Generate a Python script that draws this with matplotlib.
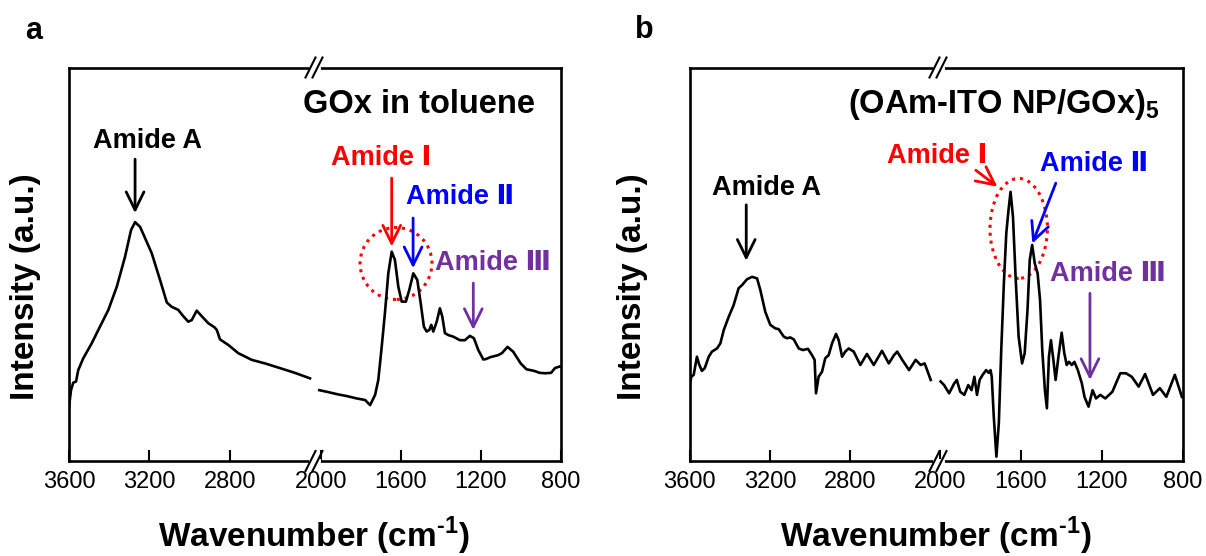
import matplotlib
matplotlib.use('Agg')
import matplotlib.pyplot as plt
from matplotlib.patches import Ellipse
from matplotlib.lines import Line2D

plt.rcParams['font.family'] = ['Liberation Sans', 'DejaVu Sans']
plt.rcParams['mathtext.fontset'] = 'custom'
plt.rcParams['mathtext.rm'] = 'Liberation Sans'
plt.rcParams['mathtext.bf'] = 'Liberation Sans:bold'

# ---------------- data (wavenumber in cm-1, intensity in a.u.) ----------------
a_hi_wn = [3600, 3590, 3579, 3565, 3554, 3529, 3487, 3454, 3404, 3362,
           3321, 3291, 3271, 3246, 3188, 3146, 3113, 3089, 3056, 3031,
           3006, 2989, 2964, 2939, 2906, 2876, 2864, 2848, 2807, 2757,
           2690, 2624, 2549, 2475, 2400]
a_hi_int = [13.8, 18.0, 19.9, 20.2, 23.1, 26.1, 29.9, 33.3, 38.4, 44.3,
            51.9, 58.7, 60.7, 59.5, 52.8, 45.9, 40.3, 39.2, 38.4, 36.8,
            35.4, 35.8, 38.2, 36.8, 35.0, 34.0, 33.3, 30.9, 29.5, 27.4,
            25.7, 24.8, 23.6, 22.4, 21.0]
a_lo_wn = [2007, 1970, 1920, 1870, 1820, 1778, 1753, 1728, 1712, 1695,
           1679, 1662, 1645, 1629, 1612, 1595, 1574, 1557, 1537, 1517,
           1500, 1484, 1470, 1457, 1447, 1437, 1420, 1404, 1392, 1379,
           1362, 1337, 1304, 1279, 1254, 1234, 1212, 1187, 1174, 1151,
           1113, 1094, 1066, 1038, 1000, 971, 933, 905, 876, 848,
           829, 806]
a_lo_int = [18.0, 17.6, 17.0, 16.5, 15.9, 15.5, 14.2, 16.8, 20.6, 29.0,
            37.5, 47.7, 53.2, 51.1, 44.3, 40.5, 40.5, 43.5, 47.7, 46.0,
            40.1, 34.1, 32.9, 33.3, 34.6, 32.9, 35.4, 38.8, 36.7, 32.5,
            32.0, 31.6, 30.7, 30.7, 31.8, 31.2, 28.2, 25.8, 25.9, 26.4,
            26.9, 27.4, 29.0, 27.8, 24.8, 23.3, 22.9, 22.4, 22.3, 22.4,
            23.6, 24.0]

b_hi_wn = [3600, 3592, 3580, 3564, 3552, 3539, 3525, 3505, 3489, 3464,
           3447, 3430, 3405, 3381, 3356, 3339, 3314, 3289, 3264, 3248,
           3223, 3198, 3173, 3156, 3131, 3115, 3098, 3081, 3056, 3036,
           3010, 2990, 2977, 2970, 2957, 2940, 2924, 2907, 2890, 2870,
           2857, 2840, 2824, 2807, 2782, 2749, 2716, 2682, 2641, 2607,
           2581, 2565, 2540, 2506, 2473, 2448, 2428, 2398]
b_hi_int = [19.3, 21.4, 21.9, 26.5, 24.4, 22.9, 23.6, 26.5, 27.8, 28.6,
            29.9, 33.3, 36.7, 39.6, 43.9, 44.7, 46.2, 46.8, 46.4, 43.5,
            37.9, 34.6, 33.7, 33.5, 31.6, 31.2, 31.4, 30.9, 28.6, 28.2,
            28.5, 26.9, 25.7, 17.2, 21.4, 22.7, 26.1, 26.9, 29.9, 32.3,
            30.7, 26.5, 27.8, 28.6, 27.8, 24.4, 27.2, 24.4, 28.0, 24.8,
            26.9, 27.8, 25.7, 23.1, 25.7, 24.4, 24.8, 20.6]
b_lo_wn = [1997, 1980, 1955, 1930, 1917, 1900, 1880, 1860, 1844, 1830,
           1817, 1804, 1789, 1772, 1759, 1750, 1744, 1734, 1721, 1709,
           1697, 1684, 1672, 1661, 1651, 1639, 1626, 1611, 1594, 1581,
           1567, 1556, 1544, 1531, 1517, 1505, 1494, 1481, 1471, 1461,
           1451, 1439, 1428, 1414, 1398, 1385, 1373, 1362, 1348, 1335,
           1318, 1298, 1285, 1265, 1245, 1228, 1207, 1182, 1147, 1108,
           1080, 1051, 1017, 985, 946, 912, 880, 838, 803]
b_lo_int = [20.2, 19.3, 17.2, 19.7, 20.6, 17.6, 16.8, 19.3, 18.0, 21.4,
            16.8, 20.6, 21.9, 23.1, 22.4, 23.1, 21.4, 11.3, 1.1, 9.6,
            28.2, 45.2, 57.9, 63.8, 68.4, 62.1, 46.8, 31.6, 24.8, 27.4,
            38.4, 51.1, 54.9, 50.2, 47.7, 40.9, 28.2, 18.0, 13.4, 26.5,
            30.7, 25.7, 20.6, 26.5, 32.6, 27.4, 24.4, 25.2, 24.4, 25.2,
            23.1, 19.7, 16.3, 13.8, 18.0, 15.9, 16.8, 15.9, 17.6, 22.3,
            22.3, 21.4, 18.9, 22.1, 16.8, 18.5, 16.3, 21.9, 16.3]

hi_ticks = [3600, 3200, 2800]
lo_ticks = [2000, 1600, 1200, 800]

RED, BLUE, PURPLE = '#FF0000', '#0000FF', '#7030A0'
ANN_FAMILY = ['Liberation Sans', 'DejaVu Sans']

# ---------------- layout helpers (pixels -> figure fraction) ----------------
W, H = 1206, 556
fig = plt.figure(figsize=(W / 100, H / 100), dpi=100)
fig.patch.set_facecolor('white')


def fx(px):
    return px / W


def fy(py):
    return 1 - py / H


LW = 1.9
TOP, BOT = 67.5, 461


def make_panel(x0, xb, x1, hi_lim, lo_lim, hi_wn, hi_int, lo_wn, lo_int):
    axL = fig.add_axes([fx(x0), fy(BOT), fx(xb) - fx(x0), fy(TOP) - fy(BOT)])
    axR = fig.add_axes([fx(xb), fy(BOT), fx(x1) - fx(xb), fy(TOP) - fy(BOT)])
    axL.plot(hi_wn, hi_int, color='black', lw=LW, solid_joinstyle='round')
    axR.plot(lo_wn, lo_int, color='black', lw=LW, solid_joinstyle='round')
    axL.set_xlim(*hi_lim)
    axR.set_xlim(*lo_lim)
    for ax, ticks in ((axL, hi_ticks), (axR, lo_ticks)):
        ax.set_ylim(0, 100)
        ax.set_yticks([])
        ax.set_xticks(ticks)
        ax.set_xticklabels([str(t) for t in ticks])
        ax.tick_params(axis='x', direction='in', length=8, width=1.5,
                       labelsize=17, pad=7)
        for s in ax.spines.values():
            s.set_linewidth(LW)
    axL.spines['right'].set_visible(False)
    axR.spines['left'].set_visible(False)
    # break marks
    for y in (TOP, BOT):
        fig.add_artist(Line2D([fx(xb - 3.5), fx(xb + 3.5)], [fy(y), fy(y)],
                              color='white', lw=3.5, transform=fig.transFigure,
                              zorder=10))
        for dx in (-3.5, 3.5):
            fig.add_artist(Line2D([fx(xb + dx - 5), fx(xb + dx + 5)],
                                  [fy(y + 10), fy(y - 10)], color='black',
                                  lw=1.5, transform=fig.transFigure, zorder=11))
    return axL, axR


axaL, axaR = make_panel(69, 314, 560.7, (3600, 2380), (2033.5, 800),
                        a_hi_wn, a_hi_int, a_lo_wn, a_lo_int)
axbL, axbR = make_panel(689.7, 938, 1182.5, (3600, 2361.6), (2010, 800),
                        b_hi_wn, b_hi_int, b_lo_wn, b_lo_int)

ANN = 19.5


def arrow(ax, text, txy, tail, tip, color):
    ax.annotate('', xy=tip, xytext=tail, annotation_clip=False,
                arrowprops=dict(arrowstyle='->,head_length=0.65,head_width=0.32',
                                color=color, lw=2, mutation_scale=20,
                                shrinkA=0, shrinkB=0))
    if text:
        ax.text(txy[0], txy[1], text, color=color, fontsize=ANN,
                fontweight='bold', ha='center', va='center', clip_on=False,
                family=ANN_FAMILY)


# ---------------- panel a annotations ----------------
arrow(axaL, 'Amide A', (3209, 81.3), (3271, 76.7), (3271, 63.0), 'black')
arrow(axaR, 'Amide \u2160', (1695, 77.0), (1645, 71.9), (1645, 54.5), RED)
arrow(axaR, 'Amide \u2161', (1303, 67.1), (1538, 61.75), (1538, 49.0), BLUE)
arrow(axaR, 'Amide \u2162', (1138, 50.3), (1237, 45.2), (1237, 33.3), PURPLE)
axaR.add_patch(Ellipse((1623.5, 50.2), 360, 18.3, fill=False, ec=RED,
                       ls=(0, (1, 1.6)), lw=2.2, clip_on=False))

# ---------------- panel b annotations ----------------
arrow(axbL, 'Amide A', (3216, 69.4), (3318, 65.1), (3318, 50.9), 'black')
arrow(axbR, 'Amide \u2160', (2015, 77.6), (1823, 73.9), (1716, 69.7), RED)
arrow(axbR, 'Amide \u2161', (1238, 75.6), (1427, 70.6), (1543, 55.3), BLUE)
arrow(axbR, 'Amide \u2162', (1169, 47.5), (1258, 42.6), (1258, 20.6), PURPLE)
axbR.add_patch(Ellipse((1610.6, 59.1), 284, 25.4, fill=False, ec=RED,
                       ls=(0, (1, 1.6)), lw=2.2, clip_on=False))

# ---------------- titles and labels ----------------
fig.text(fx(534.6), fy(112.7), 'GOx in toluene', fontsize=23.5,
         fontweight='bold', ha='right', va='baseline')
fig.text(fx(1160), fy(112.7), r'(OAm-ITO NP/GOx)$_\mathbf{5}$', fontsize=23.5,
         fontweight='bold', ha='right', va='baseline')

fig.text(fx(25), fy(39), 'a', fontsize=22, fontweight='bold', ha='left',
         va='baseline')
fig.text(fx(635), fy(38), 'b', fontsize=22, fontweight='bold', ha='left',
         va='baseline')

for xc in (313.5, 935.7):
    fig.text(fx(xc), fy(546.7), 'Wavenumber (cm$^\\mathbf{\u2010 1}$)',
             fontsize=24, fontweight='bold', ha='center', va='baseline')
for xc in (25.5, 632.5):
    fig.text(fx(xc), fy(286.5), 'Intensity (a.u.)', fontsize=24,
             fontweight='bold', ha='center', va='center', rotation=90)

fig.savefig('out.png', dpi=100, facecolor='white')
